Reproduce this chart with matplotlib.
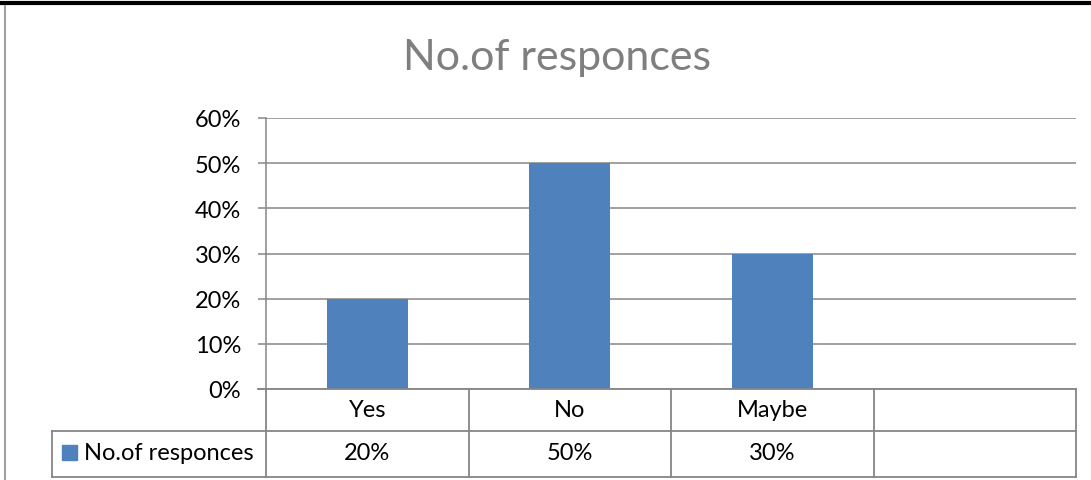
import numpy as np
import matplotlib
matplotlib.use("Agg")
import matplotlib.pyplot as plt
from matplotlib.lines import Line2D
from matplotlib.patches import Rectangle
from matplotlib.transforms import blended_transform_factory

plt.rcParams["font.family"] = ["Lato", "DejaVu Sans"]

categories = ["Yes", "No", "Maybe", ""]
responses = [0.20, 0.50, 0.30, np.nan]
series_name = "No.of responces"
y_ticks = [0.0, 0.1, 0.2, 0.3, 0.4, 0.5, 0.6]

BAR = "#4F81BD"
GRID = "#868686"
W, H = 1091, 481
FS = 17

fig = plt.figure(figsize=(W / 100, H / 100), dpi=100)


def px(x, y):
    # pixel position (from top-left) -> figure fraction
    return x / W, 1 - y / H


ax_l, ax_r, ax_t, ax_b = 266, 1076, 119, 390
ax = fig.add_axes([ax_l / W, 1 - ax_b / H, (ax_r - ax_l) / W, (ax_b - ax_t) / H])

x = np.arange(len(categories))
ax.bar(x, responses, width=0.4, color=BAR, zorder=3)
ax.set_xlim(-0.5, len(categories) - 0.5)
ax.set_ylim(0, 0.6)
ax.set_yticks(y_ticks)
ax.set_yticklabels([f"{int(round(v * 100))}%" for v in y_ticks], fontsize=FS)
ax.set_xticks([])
ax.grid(axis="y", color=GRID, linewidth=1.1, zorder=0)
ax.tick_params(axis="y", length=5.8, width=1.1, color=GRID, pad=12)
for s in ["top", "right", "bottom"]:
    ax.spines[s].set_visible(False)
ax.spines["left"].set_color(GRID)
ax.spines["left"].set_linewidth(1.1)

fig.text(*px(557, 58), series_name, ha="center", va="center",
         fontsize=31, color="#7F7F7F")

# data table under the plot
tr = blended_transform_factory(ax.transData, fig.transFigure)
row1_y, row2_y, bot_y = px(0, 390)[1], px(0, 432)[1], px(0, 478)[1]
edges = np.arange(len(categories) + 1) - 0.5
for e in edges:
    fig.add_artist(Line2D([e, e], [row1_y, bot_y], transform=tr, color=GRID, lw=1.3))
for yy in (row2_y, bot_y):
    fig.add_artist(Line2D([px(52, 0)[0], px(ax_r, 0)[0]], [yy, yy],
                          transform=fig.transFigure, color=GRID, lw=1.3))
fig.add_artist(Line2D([px(52, 0)[0]] * 2, [row2_y, bot_y],
                      transform=fig.transFigure, color=GRID, lw=1.3))
fig.add_artist(Line2D([px(258, 0)[0], px(ax_r, 0)[0]], [row1_y, row1_y],
                      transform=fig.transFigure, color=GRID, lw=1.3))

for xi, cat, val in zip(x, categories, responses):
    fig.text(xi, px(0, 411)[1], cat, transform=tr, ha="center", va="center", fontsize=FS)
    if not np.isnan(val):
        fig.text(xi, px(0, 454)[1], f"{int(round(val * 100))}%", transform=tr,
                 ha="center", va="center", fontsize=FS)

kx, ky = px(62, 461)
fig.add_artist(Rectangle((kx, ky), 15 / W, 15 / H, transform=fig.transFigure,
                         color=BAR))
fig.text(*px(84, 454), series_name, ha="left", va="center", fontsize=FS)

# page frame
fig.add_artist(Line2D([0, 1], [px(0, 4)[1]] * 2, transform=fig.transFigure,
                      color="black", lw=3))
fig.add_artist(Line2D([px(5, 0)[0]] * 2, [px(0, 7)[1], 0], transform=fig.transFigure,
                      color="#A0A0A0", lw=1.5))

fig.savefig("out.png", dpi=100)
